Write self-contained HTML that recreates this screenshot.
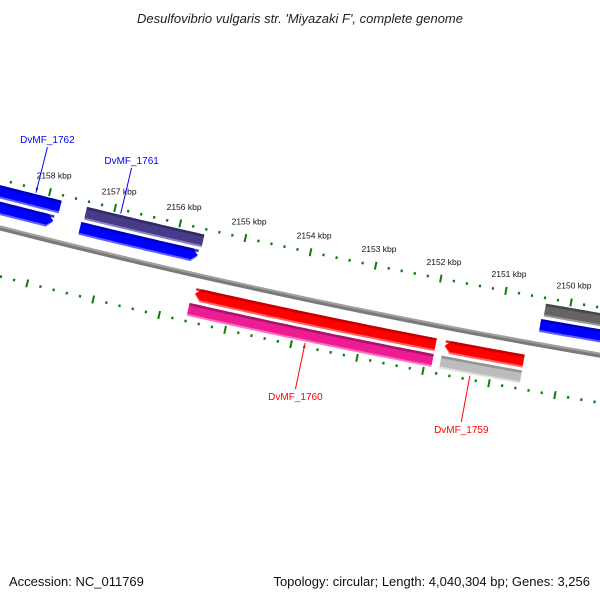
<!DOCTYPE html>
<html><head><meta charset="utf-8"><style>
body{margin:0;background:#fff}
svg text{font-family:"Liberation Sans","DejaVu Sans",sans-serif}
</style></head><body>
<svg id="map" width="600" height="600" viewBox="0 0 600 600" xmlns="http://www.w3.org/2000/svg">
<rect width="600" height="600" fill="#fff"/>
<text x="300" y="23" text-anchor="middle" font-size="13" font-style="italic" fill="#222">Desulfovibrio vulgaris str. 'Miyazaki F', complete genome</text>
<text x="9" y="586" font-size="13" fill="#111">Accession: NC_011769</text>
<text x="590" y="586" text-anchor="end" font-size="13" fill="#111">Topology: circular; Length: 4,040,304 bp; Genes: 3,256</text>
<g id="ticks"></g><g id="backbone"></g><g id="genes"></g><g id="labels"></g>
</svg>
<script>
// Gene data (kbp)
const geneNames = ["blue-a","purple","darkgray","blue-b","blue-c","blue-d","dvmf-1760-red","red-b","dvmf-1760-pink","dvmf-1759-gray"];
const geneStart = [2158.9, 2157.41, 2150.37, 2159.0, 2157.44, 2150.40, 2155.55, 2151.75, 2155.60, 2151.77];
const geneEnd   = [2157.80, 2155.61, 2149.0, 2157.85, 2155.64, 2149.0, 2151.89, 2150.55, 2151.89, 2150.55];
const geneRow   = [35, 35, 35, 19, 19, 19, -19, -19, -35, -35];
const geneArrow = [0, 0, 0, 1, 1, 0, -1, -1, 0, 0];
const geneFill  = ["#0000ff","#463b88","#646464","#0000ff","#0000ff","#0000ff","#ff0000","#ff0000","#ee1c92","#bcbcbc"];
const geneDark  = ["#0000b0","#2e2660","#404040","#0000b0","#0000b0","#0000b0","#b80000","#b80000","#9a1060","#8a8a8a"];
const geneLight = ["#6060ff","#8a82c0","#9a9a9a","#6060ff","#6060ff","#6060ff","#ff6060","#ff6060","#ff70c0","#dedede"];
const tickLabels = [2158,2157,2156,2155,2154,2153,2152,2151,2150];
const featureLabels = ["DvMF_1762","DvMF_1761","DvMF_1760","DvMF_1759"];
const featureKbp = [2158.2, 2156.9, 2153.8, 2151.3];
const featureSide = [1, 1, -1, -1];
const featureColor = ["#0000ff","#0000ff","#ff0000","#ff0000"];

const NS="http://www.w3.org/2000/svg";
function f(x){return 228+0.2548*x-7.15e-5*x*x;}
function fp(x){return 0.2548-1.43e-4*x;}
function xb(u){return 38.6+(2158-u)*65.55;}
function pt(u,d){const x=xb(u),y=f(x),s=fp(x),n=Math.sqrt(1+s*s);return [x+d*s/n,y-d/n];}
function mk(tag,attrs,parent){const e=document.createElementNS(NS,tag);for(const k in attrs)e.setAttribute(k,attrs[k]);parent.appendChild(e);return e;}
function strip(u1,u2,d1,d2,arrow){
  const pts=[],N=30,a=0.09;
  let s=u1,e=u2; // u1 > u2 (left to right)
  let sIn=s,eIn=e;
  if(arrow===1)eIn=e+a; if(arrow===-1)sIn=s-a;
  const dm=(d1+d2)/2;
  if(arrow===-1)pts.push(pt(s,dm));
  for(let i=0;i<=N;i++){pts.push(pt(sIn+(eIn-sIn)*i/N,d2));}
  if(arrow===1)pts.push(pt(e,dm));
  for(let i=N;i>=0;i--){pts.push(pt(sIn+(eIn-sIn)*i/N,d1));}
  return pts.map(p=>p[0].toFixed(1)+","+p[1].toFixed(1)).join(" ");
}
const tg=document.getElementById("ticks");
for(let i=0;i<=48;i++){
  const u=2158.8-i*0.2; const uu=Math.round(u*10)/10;
  const major=Math.abs(uu-Math.round(uu))<0.01;
  for(const side of [1,-1]){
    const d=47*side, h=major?4:1.3;
    const p1=pt(uu,d-h),p2=pt(uu,d+h);
    const t=mk("line",{x1:p1[0],y1:p1[1],x2:p2[0],y2:p2[1],stroke:"#0a7d0a","stroke-width":major?2:2.2},tg);
    
    
  }
}
tickLabels.forEach(k=>{
  const p=pt(k,64);
  const t=mk("text",{x:p[0].toFixed(1),y:(p[1]+3).toFixed(1),"text-anchor":"middle","font-size":"8.5",fill:"#111"},tg);
  t.textContent=k+" kbp";
  
  
});
const bg=document.getElementById("backbone");
const bb1=mk("polygon",{points:strip(2159.2,2148.8,-2.5,2.5,0),fill:"#7a7a7a"},bg);


const bb2=mk("polygon",{points:strip(2159.2,2148.8,0.5,2.5,0),fill:"#a0a0a0"},bg);


const gg=document.getElementById("genes");
geneStart.forEach((s,i)=>{
  const c=geneRow[i], lo=c-6.5, hi=c+6.5, ar=geneArrow[i];
  const g=mk("g",{},gg);
  
  
  mk("polygon",{points:strip(s,geneEnd[i],lo,hi,ar),fill:geneLight[i]},g);
  mk("polygon",{points:strip(s,geneEnd[i],lo+2,hi,ar),fill:geneFill[i]},g);
  mk("polygon",{points:strip(s,geneEnd[i],hi-2.5,hi,ar===0?0:0),fill:geneDark[i],opacity:0.8},g);
});
const lg=document.getElementById("labels");
featureLabels.forEach((name,i)=>{
  const side=featureSide[i];
  const p1=pt(featureKbp[i],side*43), p2=pt(featureKbp[i],side*90);
  const l=mk("line",{x1:p1[0],y1:p1[1],x2:p2[0],y2:p2[1],stroke:featureColor[i],"stroke-width":1},lg);
  
  
  const t=mk("text",{x:p2[0].toFixed(1),y:(side>0?p2[1]-4:p2[1]+11).toFixed(1),"text-anchor":"middle","font-size":"10",fill:featureColor[i]},lg);
  t.textContent=name;
  
  
});
</script>
</body></html>
